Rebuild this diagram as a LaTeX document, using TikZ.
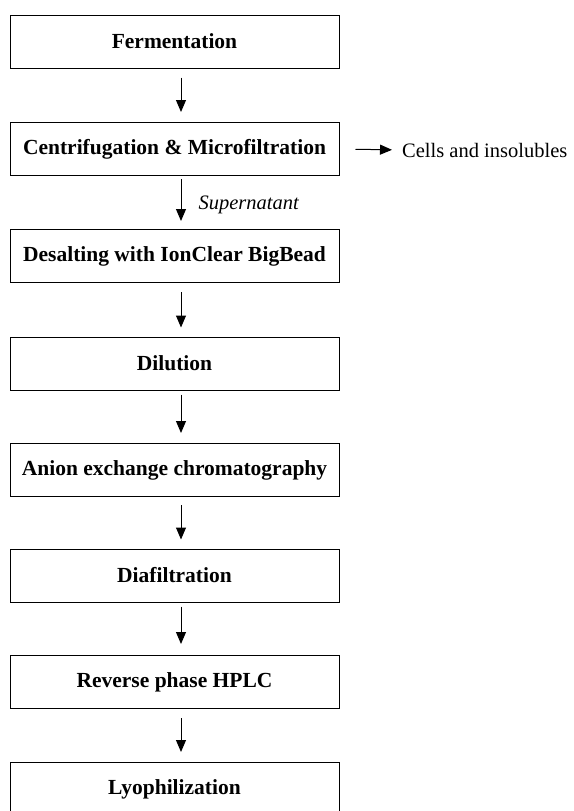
\documentclass[tikz,border=0pt]{standalone}
\usepackage{fontspec}
\setmainfont{Liberation Serif}
\usetikzlibrary{arrows.meta}
\begin{document}
\begin{tikzpicture}[x=1pt,y=-1pt,
  stepbox/.style={draw=black,line width=1pt,minimum width=329pt,minimum height=53pt,inner sep=0pt,
    font=\fontsize{21.5}{25}\selectfont\bfseries},
  arr/.style={line width=1pt,-{Triangle[length=12pt,width=10pt]}},
  lab/.style={inner sep=0pt,font=\fontsize{20.5}{24}\selectfont}]
\useasboundingbox (0,0) rectangle (573,811);
\node[stepbox] (b1) at (174.5,41.5) {\raisebox{-2pt}{Fermentation}};
\node[stepbox] (b2) at (174.5,149) {\raisebox{-2pt}{Centrifugation \& Microfiltration}};
\node[stepbox] (b3) at (174.5,256) {\raisebox{-2pt}{Desalting with IonClear BigBead}};
\node[stepbox] (b4) at (174.5,363.5) {\raisebox{-2pt}{Dilution}};
\node[stepbox] (b5) at (174.5,470) {\raisebox{-2pt}{Anion exchange chromatography}};
\node[stepbox] (b6) at (174.5,575.5) {\raisebox{-2pt}{Diafiltration}};
\node[stepbox] (b7) at (174.5,682) {\raisebox{-2pt}{Reverse phase HPLC}};
\node[stepbox] (b8) at (174.5,789) {\raisebox{-2pt}{Lyophilization}};
\node[lab,anchor=west] (cells) at (402,150) {Cells and insolubles};
\draw[arr,shorten <=9pt,shorten >=10pt] ([xshift=6.5pt]b1.south) -- ([xshift=6.5pt]b2.north);
\draw[arr,shorten <=3pt,shorten >=8pt] ([xshift=6.5pt]b2.south) -- node[lab,anchor=west,xshift=17pt,yshift=-2pt,font=\fontsize{20.5}{24}\selectfont\itshape]{Supernatant} ([xshift=6.5pt]b3.north);
\draw[arr,shorten <=9pt,shorten >=9pt] ([xshift=6.5pt]b3.south) -- ([xshift=6.5pt]b4.north);
\draw[arr,shorten <=4pt,shorten >=10pt] ([xshift=6.5pt]b4.south) -- ([xshift=6.5pt]b5.north);
\draw[arr,shorten <=8pt,shorten >=9pt] ([xshift=6.5pt]b5.south) -- ([xshift=6.5pt]b6.north);
\draw[arr,shorten <=4pt,shorten >=11pt] ([xshift=6.5pt]b6.south) -- ([xshift=6.5pt]b7.north);
\draw[arr,shorten <=9pt,shorten >=10pt] ([xshift=6.5pt]b7.south) -- ([xshift=6.5pt]b8.north);
\draw[arr,shorten <=16pt,shorten >=10pt] (b2.east) -- (cells.west);
\end{tikzpicture}
\end{document}
